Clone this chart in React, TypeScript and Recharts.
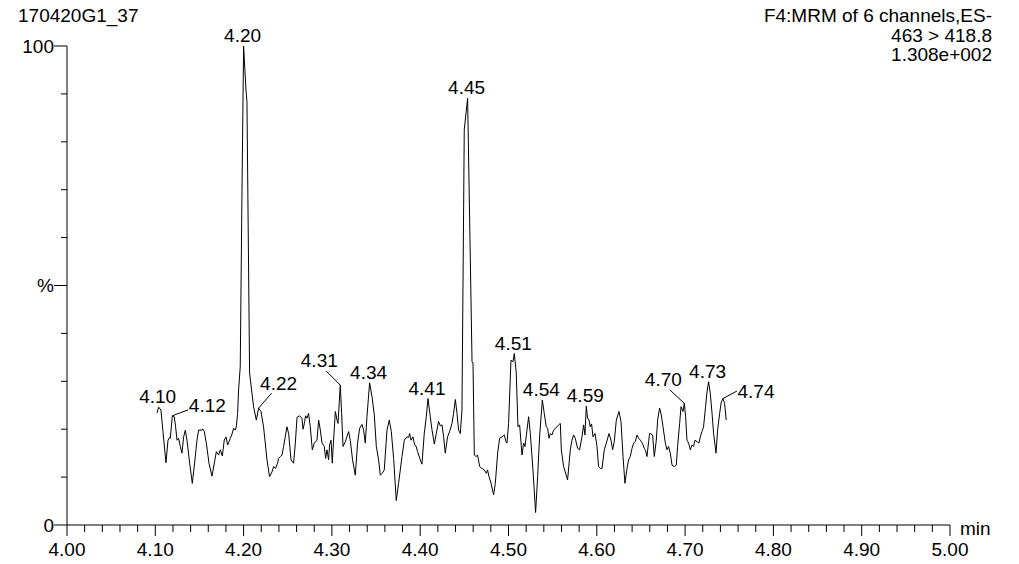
import { LineChart, Line, XAxis, YAxis } from "recharts"

// retention time (min) and relative intensity (%)
const retentionTimes = [
    4.1019, 4.1038, 4.1064, 4.1087, 4.1121, 4.1144, 4.1162, 4.117, 4.1193, 4.1215,
    4.123, 4.1246, 4.1264, 4.1283, 4.1302, 4.1321, 4.134, 4.1359, 4.1389, 4.1419,
    4.1445, 4.1472, 4.149, 4.1518, 4.154, 4.1555, 4.1578, 4.1608, 4.1642, 4.1668,
    4.1691, 4.1717, 4.1736, 4.1759, 4.1781, 4.1801, 4.1819, 4.1835, 4.1849, 4.1869,
    4.1887, 4.1906, 4.1917, 4.1932, 4.1943, 4.1962, 4.1981, 4.2, 4.2027, 4.2038,
    4.2068, 4.2113, 4.2144, 4.217, 4.2197, 4.2226, 4.2265, 4.2294, 4.2322, 4.234,
    4.2362, 4.2385, 4.2397, 4.2416, 4.2435, 4.2453, 4.2491, 4.251, 4.2537, 4.2566,
    4.2586, 4.2605, 4.2634, 4.2661, 4.2673, 4.2687, 4.2702, 4.2718, 4.2736, 4.2755,
    4.2778, 4.2801, 4.2831, 4.285, 4.2869, 4.2888, 4.2914, 4.2929, 4.2944, 4.2963,
    4.2974, 4.299, 4.3004, 4.3019, 4.3039, 4.3058, 4.3069, 4.3095, 4.311, 4.3126,
    4.3152, 4.3189, 4.3208, 4.3234, 4.3265, 4.3291, 4.3314, 4.3341, 4.3359, 4.3378,
    4.3397, 4.3427, 4.3454, 4.348, 4.3503, 4.3529, 4.3548, 4.3574, 4.3593, 4.3624,
    4.365, 4.3673, 4.3699, 4.3729, 4.3755, 4.3794, 4.382, 4.385, 4.3869, 4.388,
    4.3896, 4.3918, 4.3937, 4.3952, 4.3971, 4.4001, 4.402, 4.4046, 4.4069, 4.4088,
    4.4114, 4.4134, 4.416, 4.4182, 4.4208, 4.4228, 4.4247, 4.4265, 4.4284, 4.431,
    4.4333, 4.436, 4.4378, 4.4398, 4.4417, 4.4435, 4.4454, 4.4473, 4.4499, 4.4537,
    4.4587, 4.4598, 4.4613, 4.4632, 4.465, 4.4673, 4.47, 4.4726, 4.4749, 4.4763,
    4.4779, 4.4802, 4.4831, 4.4851, 4.4877, 4.4899, 4.4926, 4.4952, 4.4972, 4.4983,
    4.5001, 4.5028, 4.5051, 4.5066, 4.5088, 4.5107, 4.5126, 4.5153, 4.5171, 4.5187,
    4.5209, 4.5228, 4.5247, 4.5277, 4.5307, 4.533, 4.5352, 4.5383, 4.5405, 4.5428,
    4.5443, 4.5459, 4.5473, 4.5493, 4.5511, 4.553, 4.5549, 4.5567, 4.5587, 4.5598,
    4.5624, 4.5669, 4.57, 4.5719, 4.5737, 4.5756, 4.5783, 4.5805, 4.5832, 4.5851,
    4.5866, 4.5881, 4.5896, 4.5912, 4.5926, 4.5941, 4.5957, 4.598, 4.6002, 4.602,
    4.604, 4.6059, 4.6085, 4.6108, 4.6138, 4.6161, 4.6179, 4.6198, 4.6221, 4.6251,
    4.6274, 4.6297, 4.6319, 4.6342, 4.636, 4.6379, 4.6399, 4.6417, 4.6436, 4.6455,
    4.6474, 4.6493, 4.6515, 4.6538, 4.6553, 4.6568, 4.6587, 4.6598, 4.6614, 4.6632,
    4.6651, 4.6674, 4.6689, 4.6711, 4.673, 4.675, 4.6776, 4.6795, 4.6813, 4.6832,
    4.6852, 4.6878, 4.69, 4.6915, 4.6938, 4.6954, 4.6976, 4.6991, 4.7006, 4.7021,
    4.704, 4.7059, 4.7078, 4.7096, 4.7112, 4.7135, 4.7157, 4.7172, 4.7191, 4.7209,
    4.7232, 4.7248, 4.7266, 4.7285, 4.7305, 4.7323, 4.735, 4.7368, 4.7391, 4.741,
    4.7429, 4.7447, 4.7466,
]

const intensities = [
    23.4, 24.6, 24.0, 19.5, 13.0, 17.7, 18.3, 18.1, 22.8, 22.6,
    20.5, 17.7, 18.1, 16.4, 15.0, 18.4, 19.8, 17.7, 12.9, 8.7,
    12.9, 17.7, 19.8, 19.8, 20.0, 19.5, 17.1, 12.9, 10.2, 12.9,
    15.3, 14.6, 15.7, 14.4, 17.7, 18.4, 16.7, 17.4, 18.1, 19.0,
    20.2, 19.8, 20.5, 23.3, 28.2, 33.0, 68.5, 100, 90.8, 88.4,
    31.7, 24.7, 21.9, 24.4, 23.7, 20.5, 13.6, 10.1, 11.1, 12.2,
    11.8, 12.9, 13.9, 14.3, 14.6, 16.4, 20.5, 19.1, 13.6, 12.9,
    17.1, 22.5, 22.8, 22.3, 20.0, 21.1, 22.8, 22.3, 23.3, 20.5,
    15.7, 17.1, 17.7, 21.9, 19.8, 17.1, 16.4, 13.9, 15.7, 13.6,
    16.7, 17.7, 12.9, 17.7, 23.7, 21.9, 21.2, 29.2, 23.3, 16.4,
    17.4, 19.5, 17.7, 13.6, 10.4, 17.1, 20.2, 21.0, 19.8, 17.1,
    22.6, 29.7, 26.8, 23.0, 16.4, 13.6, 10.4, 10.9, 11.5, 19.8,
    21.9, 19.5, 13.9, 5.1, 8.7, 14.3, 17.7, 18.4, 18.3, 19.1,
    17.7, 18.4, 16.7, 16.5, 15.3, 13.6, 12.7, 19.1, 22.6, 26.4,
    22.6, 19.8, 16.9, 19.1, 21.6, 20.7, 20.9, 18.4, 15.0, 18.4,
    19.5, 21.2, 23.3, 26.2, 23.3, 19.8, 19.1, 24.0, 82.5, 89.1,
    34.1, 33.8, 14.6, 14.3, 14.6, 12.2, 11.8, 11.5, 10.8, 11.5,
    10.1, 8.7, 6.3, 8.7, 15.0, 18.1, 18.4, 18.8, 17.4, 17.1,
    21.2, 34.4, 34.1, 35.8, 31.7, 20.5, 20.9, 14.6, 17.1, 16.4,
    19.8, 22.6, 19.1, 11.5, 2.6, 10.1, 18.4, 26.1, 23.3, 20.5,
    20.2, 18.1, 19.1, 18.8, 19.8, 20.2, 20.5, 20.9, 21.2, 15.7,
    12.2, 9.4, 15.7, 17.7, 18.8, 18.1, 16.0, 15.7, 18.4, 20.9,
    18.8, 24.8, 22.3, 21.9, 20.5, 21.1, 18.4, 19.1, 16.4, 12.2,
    11.8, 11.8, 15.7, 17.1, 19.1, 17.7, 15.7, 17.4, 21.9, 23.7,
    21.6, 14.3, 8.7, 11.8, 13.6, 14.3, 16.0, 17.1, 17.4, 18.8,
    18.1, 17.7, 17.1, 16.0, 15.5, 14.3, 17.4, 19.1, 19.0, 18.8,
    14.3, 17.7, 21.9, 24.4, 23.0, 20.5, 17.1, 15.7, 16.4, 15.0,
    12.5, 12.2, 12.5, 16.4, 21.2, 24.7, 23.7, 25.4, 22.6, 17.7,
    17.1, 15.7, 16.7, 16.4, 17.7, 17.4, 17.1, 18.4, 19.5, 20.5,
    24.7, 27.8, 29.9, 27.5, 23.3, 19.1, 15.0, 19.8, 23.3, 25.7,
    26.4, 25.4, 21.9,
]

// apex points that carry a retention-time label
const peakTimes = [4.1038, 4.1193, 4.2, 4.217, 4.3095, 4.3427, 4.4088, 4.4537, 4.5066, 4.5383, 4.5881, 4.6991, 4.7266, 4.7429]
const peakNames = ["4.10", "4.12", "4.20", "4.22", "4.31", "4.34", "4.41", "4.45", "4.51", "4.54", "4.59", "4.70", "4.73", "4.74"]

const xMajorLabels = ["4.00", "4.10", "4.20", "4.30", "4.40", "4.50", "4.60", "4.70", "4.80", "4.90", "5.00"]
const yTickValues = [0, 10, 20, 30, 40, 50, 60, 70, 80, 90, 100]
const yTickLabels = ["0", "", "", "", "", "%", "", "", "", "", "100"]

const sampleName = "170420G1_37"
const channelInfo = ["F4:MRM of 6 channels,ES-", "463 > 418.8", "1.308e+002"]
const timeUnit = "min"

const FONT = '"Liberation Sans", Arial, sans-serif'
const FS = 19

// labels that sit off to one side with a leader line
const offsetLabels: Record<string, { dx: number; dy: number; lx: number; ly: number }> = {
    "4.12": { dx: 35, dy: -4, lx: 16, ly: -6 },
    "4.22": { dx: 20, dy: -18, lx: 13, ly: -15 },
    "4.31": { dx: -21, dy: -18, lx: -14, ly: -14 },
    "4.70": { dx: -21, dy: -17, lx: -14.5, ly: -13.5 },
    "4.74": { dx: 33, dy: -1, lx: 14, ly: -7.5 },
}

const data = retentionTimes.map((t, i) => ({
    t,
    pct: intensities[i],
    peak: peakNames[peakTimes.indexOf(t)],
}))

// minor ticks every 0.02 min
const xTicks: number[] = []
for (let k = 0; k <= 50; k++) xTicks.push(4 + k * 0.02)

const XTick = ({ x, y, payload }: any) => {
    const hundredths = Math.round(payload.value * 100)
    const major = hundredths % 10 === 0
    const label = major ? xMajorLabels[(hundredths - 400) / 10] : ""
    return (
        <g>
            <line x1={x} y1={y} x2={x} y2={y + (major ? 11 : 7)} stroke="#000" strokeWidth={1} />
            {major && (
                <text x={x} y={y + 31} textAnchor="middle" fontFamily={FONT} fontSize={FS} fill="#000">
                    {label}
                </text>
            )}
        </g>
    )
}

const YTick = ({ x, y, payload }: any) => {
    const label = yTickLabels[yTickValues.indexOf(payload.value)]
    const long = label !== ""
    return (
        <g>
            <line x1={x - (long ? 13 : 6)} y1={y} x2={x} y2={y} stroke="#000" strokeWidth={1} />
            {long && (
                <text x={x - 13} y={y + 6.5} textAnchor="end" fontFamily={FONT} fontSize={FS} fill="#000">
                    {label}
                </text>
            )}
        </g>
    )
}

const PeakMark = (props: any) => {
    const { cx, cy, payload, index } = props
    if (!payload || !payload.peak) return <g key={`p-${index}`} />
    const name = payload.peak
    const o = offsetLabels[name]
    if (!o) {
        return (
            <text key={`p-${index}`} x={cx - 1} y={cy - 4} textAnchor="middle" fontFamily={FONT} fontSize={FS} fill="#000">
                {name}
            </text>
        )
    }
    return (
        <g key={`p-${index}`}>
            <line x1={cx} y1={cy} x2={cx + o.lx} y2={cy + o.ly} stroke="#000" strokeWidth={1} />
            <text x={cx + o.dx} y={cy + o.dy} textAnchor="middle" fontFamily={FONT} fontSize={FS} fill="#000">
                {name}
            </text>
        </g>
    )
}

export default function App() {
    return (
        <div style={{ position: "absolute", left: 0, top: 0, width: 1019, height: 564, background: "#fff" }}>
            <LineChart width={1019} height={564} data={data} margin={{ top: 46, right: 69, bottom: 0, left: 0 }}>
                <XAxis
                    dataKey="t"
                    type="number"
                    domain={[4, 5]}
                    ticks={xTicks}
                    interval={0}
                    height={39}
                    tickSize={0}
                    tickMargin={0}
                    tickLine={false}
                    axisLine={{ stroke: "#000" }}
                    tick={<XTick />}
                />
                <YAxis
                    type="number"
                    domain={[0, 100]}
                    ticks={yTickValues}
                    interval={0}
                    width={67}
                    tickSize={0}
                    tickMargin={0}
                    tickLine={false}
                    axisLine={{ stroke: "#000" }}
                    tick={<YTick />}
                />
                <Line
                    dataKey="pct"
                    type="linear"
                    stroke="#000"
                    strokeWidth={1}
                    dot={PeakMark}
                    activeDot={false}
                    isAnimationActive={false}
                />
            </LineChart>
            <svg width={1019} height={564} style={{ position: "absolute", left: 0, top: 0, pointerEvents: "none" }}>
                <text x={18} y={22} fontFamily={FONT} fontSize={FS} fill="#000">
                    {sampleName}
                </text>
                {channelInfo.map((line, i) => (
                    <text key={line} x={992} y={22 + i * 19.5} textAnchor="end" fontFamily={FONT} fontSize={FS} fill="#000">
                        {line}
                    </text>
                ))}
                <text x={960} y={535} fontFamily={FONT} fontSize={FS} fill="#000">
                    {timeUnit}
                </text>
            </svg>
        </div>
    )
}
